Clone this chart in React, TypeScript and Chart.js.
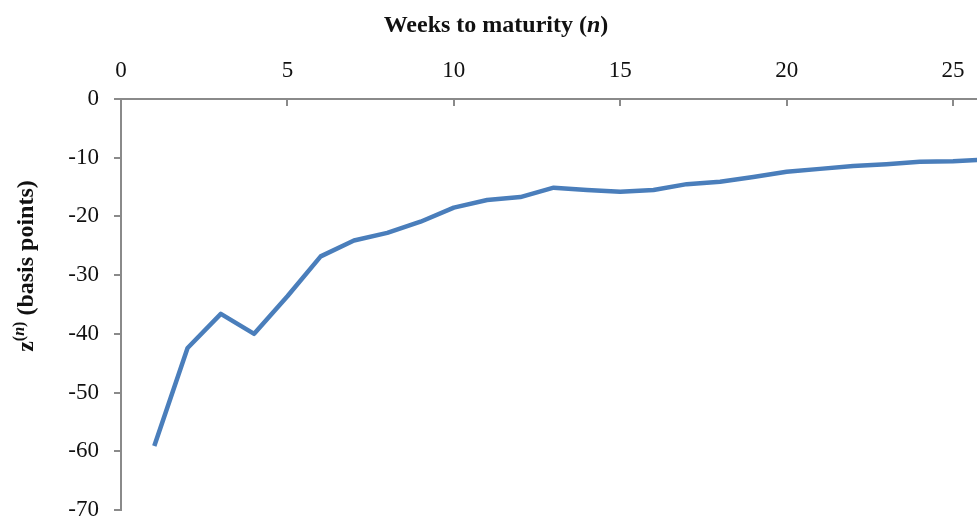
import React, { useEffect, useRef } from 'react';
import { Chart, registerables } from 'chart.js';

Chart.register(...registerables);

const weeks = [1, 2, 3, 4, 5, 6, 7, 8, 9, 10, 11, 12, 13, 14, 15, 16, 17, 18, 19, 20, 21, 22, 23, 24, 25, 26];
const zValues = [-59.1, -42.4, -36.6, -40.0, -33.6, -26.8, -24.1, -22.8, -20.9, -18.5, -17.2, -16.7, -15.1, -15.5, -15.8, -15.5, -14.5, -14.1, -13.3, -12.4, -11.9, -11.4, -11.1, -10.7, -10.6, -10.3];
const xTickValues = [0, 5, 10, 15, 20, 25];
const yTickValues = [0, -10, -20, -30, -40, -50, -60, -70];
const xTitleParts = ['Weeks to maturity (', 'n', ')'];
const yTitleParts = ['z', '(n)', ' (basis points)'];

const FONT = '"Liberation Serif", "Times New Roman", serif';
const AXIS_COLOR = '#8a8a8a';
const TEXT_COLOR = '#111111';
const LINE_COLOR = '#4a7ebb';

const titlesPlugin = {
  id: 'customTitles',
  afterDraw(chart: any) {
    const ctx = chart.ctx as CanvasRenderingContext2D;
    ctx.save();
    ctx.fillStyle = TEXT_COLOR;
    ctx.textBaseline = 'alphabetic';
    ctx.textAlign = 'left';

    // X title (top)
    const bold = `bold 24px ${FONT}`;
    const boldItalic = `italic bold 24px ${FONT}`;
    const xFonts = [bold, boldItalic, bold];
    let total = 0;
    const widths: number[] = [];
    xTitleParts.forEach((p, i) => {
      ctx.font = xFonts[i];
      const w = ctx.measureText(p).width;
      widths.push(w);
      total += w;
    });
    let x = 496 - total / 2;
    xTitleParts.forEach((p, i) => {
      ctx.font = xFonts[i];
      ctx.fillText(p, x, 32);
      x += widths[i];
    });

    // Y title (rotated)
    ctx.translate(33, 266);
    ctx.rotate(-Math.PI / 2);
    const supBold = `bold 16px ${FONT}`;
    const supItalic = `italic bold 16px ${FONT}`;
    const segs: { t: string; f: string; dy: number }[] = [
      { t: yTitleParts[0], f: bold, dy: 0 },
      { t: '(', f: supBold, dy: -9 },
      { t: 'n', f: supItalic, dy: -9 },
      { t: ')', f: supBold, dy: -9 },
      { t: yTitleParts[2], f: bold, dy: 0 },
    ];
    let tot2 = 0;
    const w2: number[] = [];
    segs.forEach((s) => {
      ctx.font = s.f;
      const w = ctx.measureText(s.t).width;
      w2.push(w);
      tot2 += w;
    });
    let yx = -tot2 / 2;
    segs.forEach((s, i) => {
      ctx.font = s.f;
      ctx.fillText(s.t, yx, s.dy);
      yx += w2[i];
    });
    ctx.restore();
  },
};

export default function App() {
  const canvasRef = useRef<HTMLCanvasElement | null>(null);

  useEffect(() => {
    if (!canvasRef.current) return;
    const points = weeks.map((w, i) => ({ x: w, y: zValues[i] }));
    const chart = new Chart(canvasRef.current, {
      type: 'line',
      data: {
        datasets: [
          {
            data: points,
            borderColor: LINE_COLOR,
            backgroundColor: LINE_COLOR,
            borderWidth: 4.5,
            pointRadius: 0,
            tension: 0,
            fill: false,
            borderJoinStyle: 'round',
            borderCapStyle: 'butt',
          },
        ],
      },
      options: {
        animation: false,
        responsive: false,
        devicePixelRatio: 1,
        layout: { padding: { top: 0, left: 0, right: 0, bottom: 10 } },
        plugins: {
          legend: { display: false },
          tooltip: { enabled: false },
          title: { display: false },
        },
        scales: {
          x: {
            type: 'linear',
            position: 'top',
            min: 0,
            max: 25.72,
            afterBuildTicks: (s: any) => {
              s.ticks = xTickValues.map((v) => ({ value: v }));
            },
            afterFit: (s: any) => {
              s.height = 99;
              s.paddingLeft = 0;
              s.paddingRight = 0;
              s.paddingTop = 0;
              s.paddingBottom = 0;
            },
            ticks: {
              color: TEXT_COLOR,
              font: { family: FONT, size: 23 },
              padding: 21,
              maxRotation: 0,
              autoSkip: false,
              includeBounds: false,
            },
            grid: {
              drawOnChartArea: false,
              drawTicks: true,
              tickLength: -7,
              color: AXIS_COLOR,
              lineWidth: 2,
            },
            border: { display: true, color: AXIS_COLOR, width: 2 },
          },
          y: {
            type: 'linear',
            position: 'left',
            min: -70,
            max: 0,
            afterBuildTicks: (s: any) => {
              s.ticks = yTickValues.map((v) => ({ value: v }));
            },
            afterFit: (s: any) => {
              s.width = 121;
              s.paddingLeft = 0;
              s.paddingRight = 0;
              s.paddingTop = 0;
              s.paddingBottom = 0;
            },
            ticks: {
              color: TEXT_COLOR,
              font: { family: FONT, size: 23 },
              padding: 15,
              autoSkip: false,
            },
            grid: {
              drawOnChartArea: false,
              drawTicks: true,
              tickLength: 7,
              color: AXIS_COLOR,
              lineWidth: 2,
            },
            border: { display: true, color: AXIS_COLOR, width: 2 },
          },
        },
      } as any,
      plugins: [titlesPlugin],
    });
    return () => chart.destroy();
  }, []);

  return (
    <div style={{ position: 'absolute', left: 0, top: 0, width: 977, height: 520, background: '#fff' }}>
      <canvas ref={canvasRef} width={977} height={520} style={{ display: 'block' }} />
    </div>
  );
}
